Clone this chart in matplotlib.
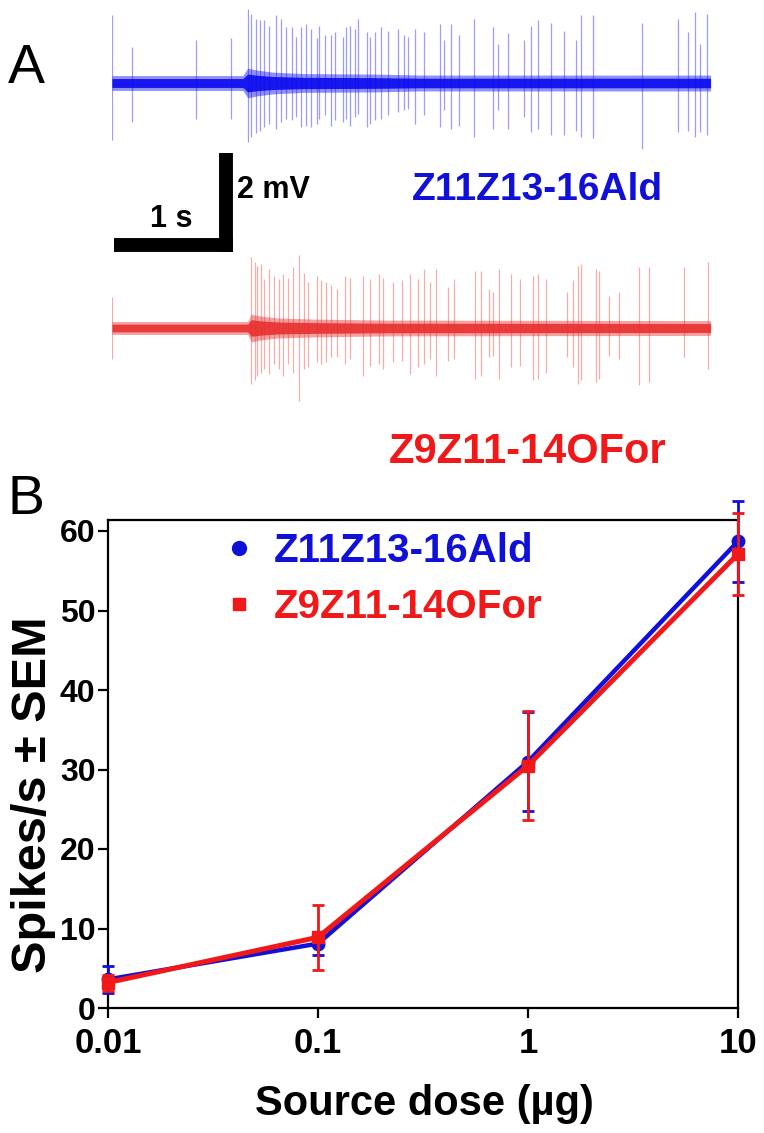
import matplotlib
matplotlib.use('Agg')
import matplotlib.pyplot as plt
from matplotlib.lines import Line2D

plt.rcParams['font.family'] = ['Liberation Sans', 'DejaVu Sans']

# ---------------- data ----------------
# Panel B: dose-response
doses = [0.01, 0.1, 1, 10]
dose_labels = ['0.01', '0.1', '1', '10']
ald_name = 'Z11Z13-16Ald'
for_name = 'Z9Z11-14OFor'
ald_mean = [3.6, 8.1, 31.0, 58.7]
ald_sem = [1.7, 1.4, 6.2, 5.1]
for_mean = [3.2, 8.9, 30.5, 57.1]
for_sem = [1.0, 4.1, 6.8, 5.2]
y_ticks = [0, 10, 20, 30, 40, 50, 60]

# Panel A: spike traces (time in s, amplitude in mV)
ald_spike_t = [0.00, 0.17, 0.71, 1.00, 1.14, 1.17, 1.21, 1.24, 1.28, 1.32, 1.38, 1.42, 1.46, 1.51,
               1.55, 1.59, 1.63, 1.67, 1.72, 1.74, 1.79, 1.84, 1.87, 1.94, 1.97, 2.00, 2.04, 2.07,
               2.14, 2.17, 2.21, 2.26, 2.32, 2.40, 2.45, 2.49, 2.55, 2.62, 2.76, 2.79, 2.85, 2.92,
               3.04, 3.20, 3.24, 3.33, 3.46, 3.52, 3.58, 3.69, 3.80, 3.90, 3.94, 4.04, 4.45, 4.76,
               4.84, 4.90, 4.94, 5.00]
ald_spike_up = [1.37, 0.73, 0.86, 0.90, 1.50, 1.40, 1.30, 1.27, 1.27, 1.16, 1.37, 1.30, 1.13, 1.13,
                0.93, 1.13, 1.20, 1.10, 0.90, 1.16, 0.96, 0.96, 1.03, 0.93, 1.13, 1.16, 1.10, 1.30,
                1.03, 0.93, 1.03, 1.13, 1.06, 1.10, 0.96, 0.93, 1.10, 1.03, 1.20, 0.86, 1.20, 0.96,
                1.30, 1.13, 0.79, 1.00, 0.86, 1.16, 1.28, 1.21, 1.06, 0.86, 1.37, 1.37, 1.21, 1.30,
                1.03, 1.43, 0.79, 1.40]
ald_spike_down = [1.16, 0.79, 0.72, 0.72, 1.19, 1.09, 1.02, 0.96, 0.89, 0.82, 0.92, 0.79, 0.72, 0.75,
                  0.69, 0.89, 0.86, 0.89, 0.82, 0.72, 0.65, 0.86, 0.75, 0.79, 0.72, 0.86, 0.69, 0.62,
                  0.89, 0.82, 0.75, 0.72, 0.65, 0.59, 0.55, 0.52, 0.82, 0.65, 0.89, 0.55, 0.92, 0.86,
                  1.09, 0.92, 0.55, 0.92, 0.69, 0.99, 0.92, 1.06, 1.06, 0.96, 1.09, 1.12, 1.33, 0.99,
                  0.96, 1.09, 0.99, 1.06]
ald_noise_t = [0.0, 1.10, 1.14, 1.22, 1.35, 1.60, 2.20, 2.60, 5.03]
ald_noise_hw = [0.15, 0.15, 0.30, 0.26, 0.22, 0.19, 0.18, 0.16, 0.16]

for_spike_t = [0.00, 1.17, 1.20, 1.22, 1.25, 1.28, 1.32, 1.36, 1.40, 1.44, 1.48, 1.52, 1.57, 1.61,
               1.65, 1.72, 1.76, 1.80, 1.84, 1.89, 1.96, 2.00, 2.11, 2.17, 2.24, 2.28, 2.36, 2.44,
               2.50, 2.57, 2.62, 2.67, 2.72, 2.82, 2.87, 3.05, 3.10, 3.17, 3.20, 3.25, 3.35, 3.43,
               3.54, 3.58, 3.65, 3.82, 3.87, 3.92, 3.94, 4.07, 4.09, 4.18, 4.26, 4.43, 4.51, 4.81,
               5.01]
for_spike_up = [0.62, 1.43, 1.33, 1.26, 1.29, 0.99, 1.19, 1.06, 0.99, 1.09, 1.02, 1.23, 1.47, 1.12,
                0.92, 1.06, 0.96, 0.92, 0.86, 0.79, 1.06, 1.02, 1.06, 0.99, 1.09, 1.02, 0.92, 0.96,
                1.09, 0.99, 1.19, 0.92, 1.19, 0.82, 0.99, 1.16, 1.16, 0.79, 0.72, 1.19, 1.09, 0.99,
                1.06, 1.09, 0.99, 0.72, 0.96, 1.26, 1.29, 1.19, 1.16, 0.65, 0.72, 1.23, 1.23, 1.23,
                1.33]
for_spike_down = [0.63, 1.13, 1.06, 0.96, 0.90, 0.83, 0.93, 0.73, 0.83, 0.96, 0.73, 0.90, 1.47, 0.83,
                  0.79, 0.69, 0.73, 0.69, 0.59, 0.59, 0.73, 0.63, 0.96, 0.76, 0.73, 0.83, 0.69, 0.66,
                  0.93, 0.79, 0.73, 0.63, 0.96, 0.66, 0.63, 1.03, 0.96, 0.59, 0.56, 1.03, 0.79, 0.76,
                  1.06, 1.03, 0.90, 0.59, 0.79, 1.13, 1.06, 1.10, 1.03, 0.56, 0.63, 1.16, 1.10, 0.59,
                  0.83]
for_noise_t = [0.0, 1.14, 1.17, 1.25, 1.40, 1.70, 2.30, 5.03]
for_noise_hw = [0.13, 0.13, 0.28, 0.24, 0.20, 0.18, 0.16, 0.15]

scale_s = 1
scale_mv = 2

# ---------------- styling ----------------
W, H = 764, 1133
BLUE = '#1010D8'
RED = '#F01818'
BLUE_TR = '#0A0AF0'
RED_TR = '#E8302F'


def fx(p):
    return p / W


def fy(p):
    return 1 - p / H


fig = plt.figure(figsize=(W / 100, H / 100), dpi=100)

# ---------------- Panel A ----------------
px_per_s = 119.0
px_per_mv = 49.5
axA = fig.add_axes([fx(112), fy(420), 600 / W, 420 / H])
axA.set_xlim(0, 600 / px_per_s)
axA.set_ylim(0, 420 / px_per_mv)
axA.axis('off')

ald_base = (420 - 83) / px_per_mv
for_base = (420 - 328) / px_per_mv


def draw_trace(ax, base, st, up, down, nt, nhw, color):
    ax.vlines(st, [base - d for d in down], [base + u for u in up],
              colors=color, alpha=0.40, lw=0.9)
    ax.fill_between(nt, [base - h for h in nhw], [base + h for h in nhw],
                    color=color, alpha=0.45, lw=0)
    ax.fill_between(nt, [base - 0.6 * h for h in nhw], [base + 0.6 * h for h in nhw],
                    color=color, alpha=0.9, lw=0)


draw_trace(axA, ald_base, ald_spike_t, ald_spike_up, ald_spike_down,
           ald_noise_t, ald_noise_hw, BLUE_TR)
draw_trace(axA, for_base, for_spike_t, for_spike_up, for_spike_down,
           for_noise_t, for_noise_hw, RED_TR)

# scale bar
t0 = (114 - 112) / px_per_s
ybar = (420 - 245) / px_per_mv
xv = (226 - 112) / px_per_s
yv0 = (420 - 252) / px_per_mv
axA.plot([t0, t0 + scale_s], [ybar, ybar], color='black', lw=10, solid_capstyle='butt')
axA.plot([xv, xv], [yv0, yv0 + scale_mv], color='black', lw=10, solid_capstyle='butt')
axA.text(t0 + scale_s / 2 - 0.02, (420 - 219) / px_per_mv, f'{scale_s} s', ha='center', va='center',
         fontsize=22, fontweight='bold')
axA.text((237 - 112) / px_per_s, (420 - 190) / px_per_mv, f'{scale_mv} mV', ha='left', va='center',
         fontsize=22, fontweight='bold')

fig.text(fx(537), fy(190), ald_name, color=BLUE, fontsize=28, fontweight='bold',
         ha='center', va='center')
fig.text(fx(528), fy(452), for_name, color=RED, fontsize=30, fontweight='bold',
         ha='center', va='center')

fig.text(fx(8), fy(83), 'A', fontsize=40, ha='left', va='baseline')
fig.text(fx(8), fy(514), 'B', fontsize=40, ha='left', va='baseline')

# ---------------- Panel B ----------------
axB = fig.add_axes([fx(108), fy(1008), 630 / W, (1008 - 520) / H])
axB.set_xscale('log')
axB.set_xlim(0.01, 10)
axB.set_ylim(0, 488 / 7.95)

axB.errorbar(doses, ald_mean, yerr=ald_sem, color=BLUE, lw=3.2, marker='o', ms=9,
             capsize=4, capthick=2, elinewidth=2, clip_on=False, zorder=3)
axB.errorbar(doses, for_mean, yerr=for_sem, color=RED, lw=3.6, marker='s', ms=8,
             capsize=4, capthick=2, elinewidth=2, clip_on=False, zorder=4)

axB.set_xticks(doses)
axB.set_xticklabels(dose_labels)
axB.xaxis.set_minor_locator(matplotlib.ticker.NullLocator())
axB.set_yticks(y_ticks)
for sp in axB.spines.values():
    sp.set_linewidth(1.6)
axB.tick_params(axis='both', which='major', width=1.6, length=7.5, direction='out')
axB.tick_params(axis='y', pad=1.5, labelsize=23)
axB.tick_params(axis='x', pad=6, labelsize=25)
for lab in axB.get_xticklabels() + axB.get_yticklabels():
    lab.set_fontweight('bold')

axB.set_ylabel('Spikes/s ± SEM', fontsize=35, fontweight='bold')
axB.yaxis.set_label_coords(-0.083, (1008 - 795) / 488)
axB.set_xlabel('Source dose (µg)', fontsize=30, fontweight='bold')
axB.xaxis.set_label_coords(0.503, -0.155)

handles = [Line2D([], [], color=BLUE, marker='o', ms=10, ls='none'),
           Line2D([], [], color=RED, marker='s', ms=9, ls='none')]
leg = axB.legend(handles, [ald_name, for_name], loc='upper left',
                 bbox_to_anchor=((223 - 108) / 630, (1008 - 532) / 488),
                 frameon=False, handlelength=0.8, handletextpad=0.45,
                 borderpad=0, borderaxespad=0, labelspacing=0.45,
                 prop={'size': 29, 'weight': 'bold'})
for txt, c in zip(leg.get_texts(), [BLUE, RED]):
    txt.set_color(c)

fig.savefig('out.png', dpi=100)
